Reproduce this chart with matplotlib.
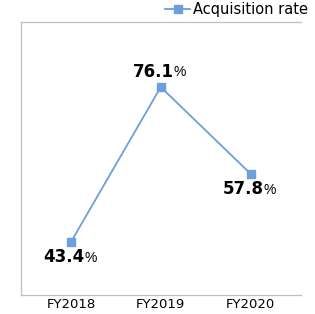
import matplotlib.pyplot as plt

# data
years = ["FY2018", "FY2019", "FY2020"]
rates = [43.4, 76.1, 57.8]
label_above = [False, True, False]

blue = "#6d9fd8"
grey = "#bfbfbf"

fig = plt.figure(figsize=(3.15, 3.14), dpi=100)
ax = fig.add_axes([0.0667, 0.0605, 0.889, 0.869])

x = list(range(len(years)))
line, = ax.plot(x, rates, color=blue, lw=1.3, marker="s", ms=5.5,
                label="Acquisition rate")

for xi, v, up in zip(x, rates, label_above):
    dy = 11 if up else -11
    ax.annotate(f"{v:.1f}", (xi, v), xytext=(9.5, dy), textcoords="offset points",
                ha="right", va="center", fontsize=12, fontweight="bold",
                family="DejaVu Sans")
    ax.annotate("%", (xi, v), xytext=(9.5, dy - 0.5), textcoords="offset points",
                ha="left", va="center", fontsize=10, family="Liberation Sans")

ax.set_xlim(-0.557, 2.563)
ax.set_ylim(32.2, 89.8)
ax.set_xticks(x)
ax.set_xticklabels(years, fontsize=9.5, family="DejaVu Sans")
ax.set_yticks([])
ax.tick_params(axis="x", length=0, pad=2)

for s in ["left", "top", "bottom"]:
    ax.spines[s].set_color(grey)
    ax.spines[s].set_linewidth(0.9)
ax.spines["right"].set_visible(False)

fig.legend(handles=[line], loc="upper right", bbox_to_anchor=(1.018, 1.035),
           frameon=False, handlelength=1.75, handletextpad=0.15,
           prop={"family": "DejaVu Sans", "size": 10.5})

fig.savefig("out.png", dpi=100)
